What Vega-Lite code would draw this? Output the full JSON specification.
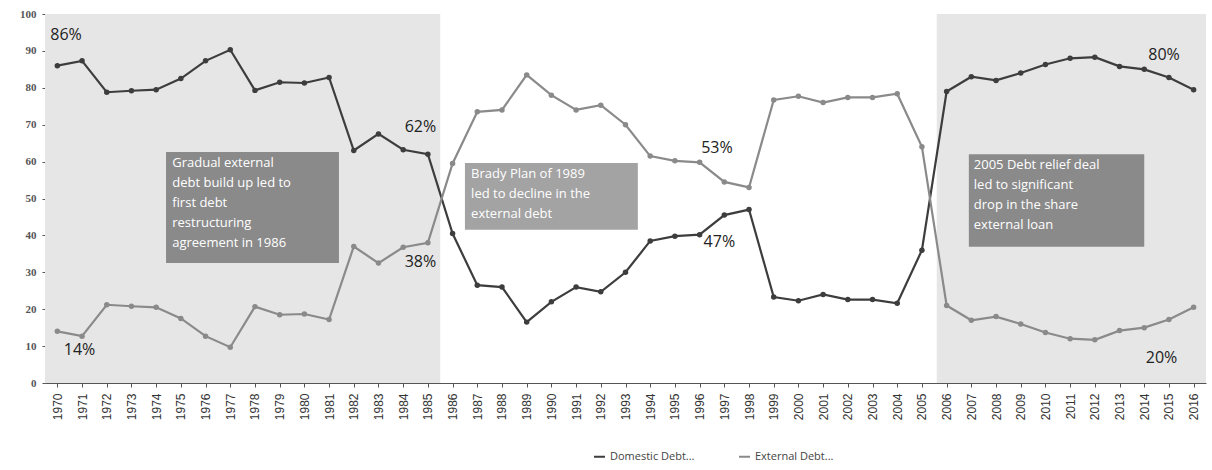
{
  "$schema": "https://vega.github.io/schema/vega-lite/v6.json",
  "width": 1161,
  "height": 369,
  "autosize": {"type": "none"},
  "padding": {"left": 45, "top": 14, "right": 6, "bottom": 87},
  "background": "white",
  "config": {
    "view": {"stroke": null},
    "font": "Open Sans",
    "axisX": {"tickCount": 50, "labelOverlap": false, "labelFlush": false, "labelAngle": -90, "labelAlign": "right", "labelBaseline": "middle", "labelFontSize": 12, "labelColor": "#333", "labelFont": "Liberation Sans", "labelPadding": 6, "grid": false, "domainColor": "#555", "tickColor": "#555", "tickSize": 4, "title": null},
    "axisY": {"tickCount": 12, "labelOverlap": false, "labelFlush": false, "labelBound": false, "grid": false, "domainColor": "#555", "tickColor": "#555", "tickSize": 3, "labelFontSize": 11, "labelFontWeight": "bold", "labelColor": "#555", "labelFont": "Liberation Serif", "labelPadding": 6, "labelBaseline": "middle", "title": null}
  },
  "datasets": {
    "debt": [
      {"year":1970,"series":"Domestic Debt...","value":86},{"year":1971,"series":"Domestic Debt...","value":87.3},{"year":1972,"series":"Domestic Debt...","value":78.8},{"year":1973,"series":"Domestic Debt...","value":79.2},{"year":1974,"series":"Domestic Debt...","value":79.5},{"year":1975,"series":"Domestic Debt...","value":82.5},{"year":1976,"series":"Domestic Debt...","value":87.3},{"year":1977,"series":"Domestic Debt...","value":90.3},{"year":1978,"series":"Domestic Debt...","value":79.3},{"year":1979,"series":"Domestic Debt...","value":81.5},{"year":1980,"series":"Domestic Debt...","value":81.3},{"year":1981,"series":"Domestic Debt...","value":82.8},{"year":1982,"series":"Domestic Debt...","value":63},{"year":1983,"series":"Domestic Debt...","value":67.5},{"year":1984,"series":"Domestic Debt...","value":63.2},{"year":1985,"series":"Domestic Debt...","value":62},{"year":1986,"series":"Domestic Debt...","value":40.5},{"year":1987,"series":"Domestic Debt...","value":26.5},{"year":1988,"series":"Domestic Debt...","value":26},{"year":1989,"series":"Domestic Debt...","value":16.5},{"year":1990,"series":"Domestic Debt...","value":22},{"year":1991,"series":"Domestic Debt...","value":26},{"year":1992,"series":"Domestic Debt...","value":24.7},{"year":1993,"series":"Domestic Debt...","value":30},{"year":1994,"series":"Domestic Debt...","value":38.5},{"year":1995,"series":"Domestic Debt...","value":39.8},{"year":1996,"series":"Domestic Debt...","value":40.2},{"year":1997,"series":"Domestic Debt...","value":45.5},{"year":1998,"series":"Domestic Debt...","value":47},{"year":1999,"series":"Domestic Debt...","value":23.3},{"year":2000,"series":"Domestic Debt...","value":22.3},{"year":2001,"series":"Domestic Debt...","value":24},{"year":2002,"series":"Domestic Debt...","value":22.6},{"year":2003,"series":"Domestic Debt...","value":22.6},{"year":2004,"series":"Domestic Debt...","value":21.6},{"year":2005,"series":"Domestic Debt...","value":36},{"year":2006,"series":"Domestic Debt...","value":79},{"year":2007,"series":"Domestic Debt...","value":83},{"year":2008,"series":"Domestic Debt...","value":82},{"year":2009,"series":"Domestic Debt...","value":84},{"year":2010,"series":"Domestic Debt...","value":86.3},{"year":2011,"series":"Domestic Debt...","value":88},{"year":2012,"series":"Domestic Debt...","value":88.3},{"year":2013,"series":"Domestic Debt...","value":85.8},{"year":2014,"series":"Domestic Debt...","value":85},{"year":2015,"series":"Domestic Debt...","value":82.8},{"year":2016,"series":"Domestic Debt...","value":79.5},
      {"year":1970,"series":"External Debt...","value":14},{"year":1971,"series":"External Debt...","value":12.7},{"year":1972,"series":"External Debt...","value":21.2},{"year":1973,"series":"External Debt...","value":20.8},{"year":1974,"series":"External Debt...","value":20.5},{"year":1975,"series":"External Debt...","value":17.5},{"year":1976,"series":"External Debt...","value":12.7},{"year":1977,"series":"External Debt...","value":9.7},{"year":1978,"series":"External Debt...","value":20.7},{"year":1979,"series":"External Debt...","value":18.5},{"year":1980,"series":"External Debt...","value":18.7},{"year":1981,"series":"External Debt...","value":17.2},{"year":1982,"series":"External Debt...","value":37},{"year":1983,"series":"External Debt...","value":32.5},{"year":1984,"series":"External Debt...","value":36.8},{"year":1985,"series":"External Debt...","value":38},{"year":1986,"series":"External Debt...","value":59.5},{"year":1987,"series":"External Debt...","value":73.5},{"year":1988,"series":"External Debt...","value":74},{"year":1989,"series":"External Debt...","value":83.5},{"year":1990,"series":"External Debt...","value":78},{"year":1991,"series":"External Debt...","value":74},{"year":1992,"series":"External Debt...","value":75.3},{"year":1993,"series":"External Debt...","value":70},{"year":1994,"series":"External Debt...","value":61.5},{"year":1995,"series":"External Debt...","value":60.2},{"year":1996,"series":"External Debt...","value":59.8},{"year":1997,"series":"External Debt...","value":54.5},{"year":1998,"series":"External Debt...","value":53},{"year":1999,"series":"External Debt...","value":76.7},{"year":2000,"series":"External Debt...","value":77.7},{"year":2001,"series":"External Debt...","value":76},{"year":2002,"series":"External Debt...","value":77.4},{"year":2003,"series":"External Debt...","value":77.4},{"year":2004,"series":"External Debt...","value":78.4},{"year":2005,"series":"External Debt...","value":64},{"year":2006,"series":"External Debt...","value":21},{"year":2007,"series":"External Debt...","value":17},{"year":2008,"series":"External Debt...","value":18},{"year":2009,"series":"External Debt...","value":16},{"year":2010,"series":"External Debt...","value":13.7},{"year":2011,"series":"External Debt...","value":12},{"year":2012,"series":"External Debt...","value":11.7},{"year":2013,"series":"External Debt...","value":14.2},{"year":2014,"series":"External Debt...","value":15},{"year":2015,"series":"External Debt...","value":17.2},{"year":2016,"series":"External Debt...","value":20.5}
    ],
    "shade": [
      {"x0":1969.5,"x1":1985.5,"y0":0,"y1":100},
      {"x0":2005.6,"x1":2016.5,"y0":0,"y1":100}
    ],
    "boxes": [
      {"x0":1974.4,"x1":1981.4,"y0":32.5,"y1":62.6,"fill":"#8a8a8a","tx":1974.65,"ty":61.3,"text":"Gradual external\ndebt build up led to\nfirst debt\nrestructuring\nagreement in 1986"},
      {"x0":1986.5,"x1":1993.5,"y0":41.5,"y1":59.6,"fill":"#a3a3a3","tx":1986.75,"ty":58.4,"text":"Brady Plan of 1989\nled to decline in the\nexternal debt"},
      {"x0":2006.9,"x1":2014.0,"y0":36.9,"y1":62.0,"fill":"#8a8a8a","tx":2007.1,"ty":60.8,"text":"2005 Debt relief deal\nled to significant\ndrop in the share\nexternal loan"}
    ],
    "labels": [
      {"x":1970.35,"y":94.3,"text":"86%"},
      {"x":1970.9,"y":9,"text":"14%"},
      {"x":1984.7,"y":69.4,"text":"62%"},
      {"x":1984.7,"y":32.8,"text":"38%"},
      {"x":1996.7,"y":63.7,"text":"53%"},
      {"x":1996.8,"y":38.2,"text":"47%"},
      {"x":2014.8,"y":88.9,"text":"80%"},
      {"x":2014.7,"y":6.8,"text":"20%"}
    ]
  },
  "layer": [
    {
      "data": {"name": "shade"},
      "mark": {"type": "rect", "fill": "#e6e6e6"},
      "encoding": {
        "x": {"field": "x0", "type": "quantitative", "scale": {"domain": [1969.5, 2016.5], "nice": false, "zero": false},
          "axis": {"values": [1970,1971,1972,1973,1974,1975,1976,1977,1978,1979,1980,1981,1982,1983,1984,1985,1986,1987,1988,1989,1990,1991,1992,1993,1994,1995,1996,1997,1998,1999,2000,2001,2002,2003,2004,2005,2006,2007,2008,2009,2010,2011,2012,2013,2014,2015,2016], "format": "d", "tickCount": 50}},
        "x2": {"field": "x1"},
        "y": {"field": "y0", "type": "quantitative", "scale": {"domain": [0, 100], "nice": false},
          "axis": {"values": [0,10,20,30,40,50,60,70,80,90,100], "tickCount": 12}},
        "y2": {"field": "y1"}
      }
    },
    {
      "data": {"name": "boxes"},
      "mark": {"type": "rect"},
      "encoding": {
        "x": {"field": "x0", "type": "quantitative"},
        "x2": {"field": "x1"},
        "y": {"field": "y0", "type": "quantitative"},
        "y2": {"field": "y1"},
        "fill": {"field": "fill", "type": "nominal", "scale": null}
      }
    },
    {
      "data": {"name": "boxes"},
      "mark": {"type": "text", "align": "left", "baseline": "top", "color": "white", "fontSize": 13, "lineHeight": 20, "font": "Open Sans"},
      "encoding": {
        "x": {"field": "tx", "type": "quantitative"},
        "y": {"field": "ty", "type": "quantitative"},
        "text": {"field": "text", "type": "nominal"}
      },
      "transform": [{"calculate": "split(datum.text, '\\n')", "as": "text"}]
    },
    {
      "data": {"name": "debt"},
      "mark": {"type": "line", "strokeWidth": 2.2, "point": {"filled": true, "size": 30}},
      "encoding": {
        "x": {"field": "year", "type": "quantitative"},
        "y": {"field": "value", "type": "quantitative"},
        "color": {"field": "series", "type": "nominal",
          "scale": {"domain": ["Domestic Debt...", "External Debt..."], "range": ["#3d3d3d", "#8a8a8a"]},
          "legend": {"title": null, "orient": "none", "legendX": 548, "legendY": 436, "direction": "horizontal", "labelFontSize": 11, "labelColor": "#444", "symbolType": "stroke", "symbolStrokeWidth": 2, "symbolSize": 120, "columnPadding": 40, "labelFont": "Open Sans"}}
      }
    },
    {
      "data": {"name": "labels"},
      "mark": {"type": "text", "align": "center", "baseline": "middle", "fontSize": 16, "color": "#222", "font": "Open Sans"},
      "encoding": {
        "x": {"field": "x", "type": "quantitative"},
        "y": {"field": "y", "type": "quantitative"},
        "text": {"field": "text", "type": "nominal"}
      }
    }
  ]
}
